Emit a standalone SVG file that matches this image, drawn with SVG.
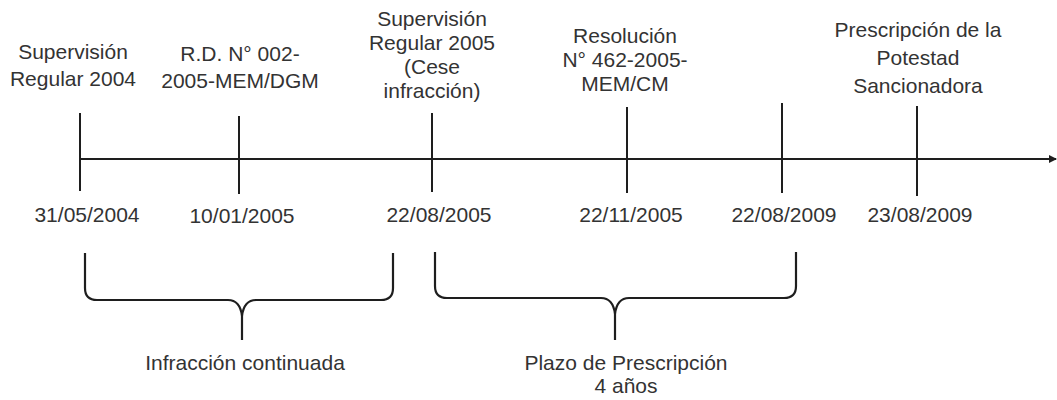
<svg xmlns="http://www.w3.org/2000/svg" width="1057" height="400" viewBox="0 0 1057 400">
<style>
text{font-family:"Liberation Sans",Arial,sans-serif;font-size:21px;fill:#333;text-anchor:middle}
.ln{stroke:#1e1e1e;stroke-width:2;fill:none}
.br{stroke:#1e1e1e;stroke-width:2.2;fill:none;stroke-linejoin:round}
</style>
<defs>
<marker id="ah" markerWidth="8" markerHeight="8" refX="7" refY="4" orient="auto" markerUnits="userSpaceOnUse">
<path d="M0,0 L8,4 L0,8 Z" fill="#1e1e1e"/>
</marker>
</defs>
<rect width="1057" height="400" fill="#fff"/>
<g id="connectors">
<line class="ln" x1="80" y1="159" x2="1056" y2="159" marker-end="url(#ah)"/>
<path class="br" d="M85,253 L85,288 Q85,300 97,300 L228,300 Q240,300 242,316 L242,340 M242,316 Q244,300 256,300 L381,300 Q393,300 393,288 L393,253"/>
<path class="br" d="M435,252 L435,286 Q435,298 447,298 L601,298 Q613,298 615,314 L615,340 M615,314 Q617,298 629,298 L784,298 Q796,298 796,286 L796,252"/>
</g>
<g id="e1">
<line class="ln" x1="80" y1="113" x2="80" y2="191"/>
<text x="73" y="59">Supervisión</text>
<text x="73" y="86">Regular 2004</text>
<text x="87" y="222">31/05/2004</text>
</g>
<g id="e2">
<line class="ln" x1="239" y1="116" x2="239" y2="194"/>
<text x="240" y="61">R.D. N° 002-</text>
<text x="240" y="88">2005-MEM/DGM</text>
<text x="242" y="223">10/01/2005</text>
</g>
<g id="e3">
<line class="ln" x1="432" y1="113" x2="432" y2="192"/>
<text x="432" y="26">Supervisión</text>
<text x="432" y="50">Regular 2005</text>
<text x="432" y="74">(Cese</text>
<text x="432" y="98">infracción)</text>
<text x="439" y="222">22/08/2005</text>
</g>
<g id="e4">
<line class="ln" x1="627" y1="107" x2="627" y2="193"/>
<text x="625" y="43">Resolución</text>
<text x="625" y="67">N° 462-2005-</text>
<text x="625" y="91">MEM/CM</text>
<text x="631" y="222">22/11/2005</text>
</g>
<g id="e5">
<line class="ln" x1="782" y1="103" x2="782" y2="193"/>
<text x="784" y="222">22/08/2009</text>
</g>
<g id="e6">
<line class="ln" x1="917" y1="106" x2="917" y2="196"/>
<text x="918" y="37">Prescripción de la</text>
<text x="918" y="65">Potestad</text>
<text x="918" y="93">Sancionadora</text>
<text x="920" y="222">23/08/2009</text>
</g>
<g id="infraccion">
<text x="245" y="370">Infracción continuada</text>
</g>
<g id="plazo">
<text x="626" y="370">Plazo de Prescripción</text>
<text x="626" y="393">4 años</text>
</g>
</svg>
